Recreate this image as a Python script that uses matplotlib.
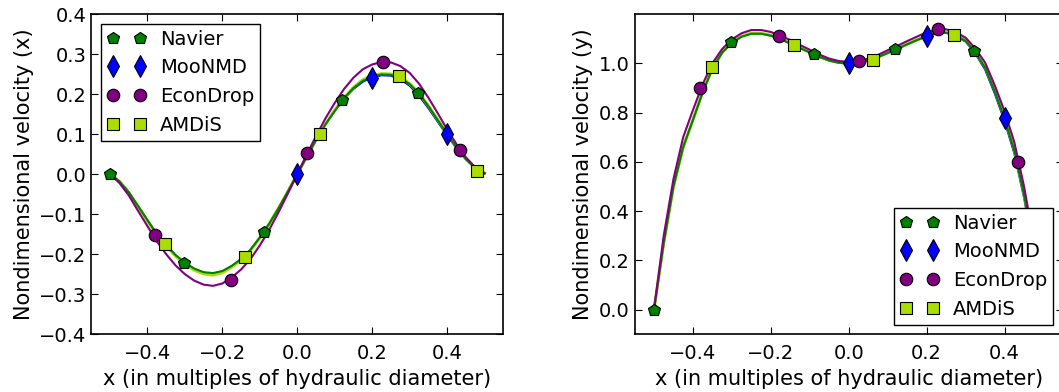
import matplotlib
matplotlib.use("Agg")
import matplotlib.pyplot as plt

# x positions of the line profiles (hydraulic diameters)
line_x = [-0.5, -0.475, -0.45, -0.425, -0.4, -0.375, -0.35, -0.325, -0.3, -0.275,
          -0.25, -0.225, -0.2, -0.175, -0.15, -0.125, -0.1, -0.075, -0.05, -0.025,
          0.0, 0.025, 0.05, 0.075, 0.1, 0.125, 0.15, 0.175, 0.2, 0.225,
          0.25, 0.275, 0.3, 0.325, 0.35, 0.375, 0.4, 0.425, 0.45, 0.475, 0.5]

# x-velocity profiles
navier_u_line = [0.0, -0.018, -0.045, -0.080, -0.115, -0.150, -0.177, -0.202, -0.221, -0.236,
                 -0.245, -0.247, -0.242, -0.229, -0.212, -0.189, -0.158, -0.124, -0.085, -0.043,
                 0.0, 0.043, 0.085, 0.124, 0.158, 0.190, 0.215, 0.233, 0.244, 0.249,
                 0.248, 0.240, 0.225, 0.201, 0.170, 0.135, 0.100, 0.067, 0.038, 0.015, 0.002]
moonmd_u_line = [0.0, -0.018, -0.045, -0.080, -0.115, -0.150, -0.178, -0.203, -0.222, -0.237,
                 -0.246, -0.249, -0.243, -0.230, -0.213, -0.189, -0.158, -0.124, -0.085, -0.043,
                 0.0, 0.043, 0.085, 0.124, 0.158, 0.189, 0.213, 0.231, 0.242, 0.247,
                 0.246, 0.237, 0.221, 0.196, 0.165, 0.131, 0.097, 0.065, 0.037, 0.015, 0.002]
econdrop_u_line = [0.0, -0.022, -0.053, -0.092, -0.130, -0.168, -0.200, -0.228, -0.250, -0.266,
                   -0.276, -0.279, -0.273, -0.258, -0.238, -0.212, -0.178, -0.139, -0.095, -0.048,
                   0.0, 0.049, 0.095, 0.139, 0.178, 0.213, 0.241, 0.262, 0.274, 0.280,
                   0.279, 0.270, 0.253, 0.226, 0.191, 0.152, 0.112, 0.075, 0.042, 0.017, 0.002]
amdis_u_line = [0.0, -0.018, -0.046, -0.081, -0.117, -0.152, -0.179, -0.205, -0.224, -0.240,
                -0.249, -0.252, -0.246, -0.232, -0.214, -0.190, -0.159, -0.124, -0.085, -0.043,
                0.0, 0.043, 0.086, 0.125, 0.160, 0.191, 0.217, 0.236, 0.246, 0.251,
                0.250, 0.242, 0.226, 0.202, 0.171, 0.136, 0.101, 0.068, 0.039, 0.016, 0.003]

# y-velocity profiles
navier_v_line = [0.0, 0.27, 0.50, 0.66, 0.77, 0.882, 0.978, 1.043, 1.083, 1.108,
                 1.120, 1.120, 1.112, 1.098, 1.080, 1.062, 1.044, 1.026, 1.011, 1.002,
                 0.999, 1.002, 1.011, 1.025, 1.042, 1.059, 1.077, 1.094, 1.110, 1.122,
                 1.124, 1.112, 1.091, 1.044, 0.982, 0.885, 0.775, 0.645, 0.465, 0.245, 0.0]
moonmd_v_line = [0.0, 0.27, 0.50, 0.66, 0.77, 0.883, 0.979, 1.044, 1.084, 1.109,
                 1.121, 1.121, 1.113, 1.099, 1.081, 1.062, 1.044, 1.026, 1.011, 1.002,
                 1.0, 1.002, 1.011, 1.025, 1.042, 1.059, 1.077, 1.094, 1.111, 1.123,
                 1.124, 1.111, 1.088, 1.040, 0.975, 0.877, 0.766, 0.635, 0.455, 0.24, 0.0]
econdrop_v_line = [0.0, 0.30, 0.53, 0.70, 0.81, 0.915, 1.000, 1.058, 1.097, 1.122,
                   1.135, 1.135, 1.127, 1.112, 1.094, 1.074, 1.055, 1.035, 1.019, 1.009,
                   1.006, 1.009, 1.019, 1.034, 1.053, 1.071, 1.090, 1.108, 1.126, 1.137,
                   1.138, 1.126, 1.104, 1.060, 1.003, 0.910, 0.805, 0.680, 0.500, 0.28, 0.0]
amdis_v_line = [0.0, 0.27, 0.50, 0.66, 0.77, 0.885, 0.980, 1.045, 1.085, 1.110,
                1.122, 1.122, 1.114, 1.100, 1.082, 1.063, 1.045, 1.027, 1.012, 1.003,
                1.0, 1.003, 1.012, 1.026, 1.043, 1.060, 1.078, 1.095, 1.112, 1.124,
                1.126, 1.114, 1.093, 1.045, 0.985, 0.890, 0.780, 0.650, 0.470, 0.25, 0.0]

# sampled points shown with markers
navier_x = [-0.5, -0.302, -0.09, 0.12, 0.321]
navier_u = [0.0, -0.221, -0.145, 0.184, 0.203]
navier_v = [0.0, 1.085, 1.037, 1.059, 1.049]

moonmd_x = [0.0, 0.2, 0.4]
moonmd_u = [0.0, 0.241, 0.100]
moonmd_v = [1.002, 1.112, 0.778]

econdrop_x = [-0.381, -0.178, 0.026, 0.23, 0.434]
econdrop_u = [-0.152, -0.264, 0.053, 0.280, 0.060]
econdrop_v = [0.898, 1.112, 1.011, 1.138, 0.600]

amdis_x = [-0.352, -0.14, 0.061, 0.271, 0.48]
amdis_u = [-0.175, -0.206, 0.101, 0.244, 0.008]
amdis_v = [0.984, 1.075, 1.015, 1.116, 0.20]

plt.rcParams.update({
    "font.family": "DejaVu Sans",
    "font.size": 14,
    "axes.labelsize": 15,
    "axes.linewidth": 1.2,
    "xtick.direction": "in",
    "ytick.direction": "in",
    "xtick.top": True,
    "ytick.right": True,
    "xtick.major.size": 5,
    "ytick.major.size": 5,
    "xtick.major.pad": 7,
    "ytick.major.pad": 3.5,
    "legend.fontsize": 14,
    "legend.numpoints": 2,
    "legend.fancybox": False,
    "legend.framealpha": 1.0,
    "legend.edgecolor": "black",
    "legend.borderpad": 0.3,
    "legend.handletextpad": 0.75,
})

series = [
    ("Navier", "green", "p", 9, navier_x, navier_u, navier_v,
     navier_u_line, navier_v_line, 1.5, 3),
    ("MooNMD", "blue", "d", 11, moonmd_x, moonmd_u, moonmd_v,
     moonmd_u_line, moonmd_v_line, 1.5, 2),
    ("EconDrop", "purple", "o", 9, econdrop_x, econdrop_u, econdrop_v,
     econdrop_u_line, econdrop_v_line, 1.5, 4),
    ("AMDiS", "#aadd00", "s", 9, amdis_x, amdis_u, amdis_v,
     amdis_u_line, amdis_v_line, 2.2, 2.5),
]

W, H = 1059, 392
fig = plt.figure(figsize=(W / 100, H / 100), dpi=100)
ax1 = fig.add_axes([91.3 / W, (H - 334.3) / H, 412 / W, 320.3 / H])
ax2 = fig.add_axes([634.5 / W, (H - 334.3) / H, 428.5 / W, 320.3 / H])

for name, color, marker, ms, px, pu, pv, lu, lv, lw, z in series:
    ax1.plot(line_x, lu, "-", color=color, lw=lw, zorder=z)
    ax2.plot(line_x, lv, "-", color=color, lw=lw, zorder=z)
# markers stay below the legend (zorder 5)
for name, color, marker, ms, px, pu, pv, lu, lv, lw, z in series:
    ax1.plot(px, pu, linestyle="none", marker=marker, ms=ms, mfc=color,
             mec="black", mew=0.8, label=name, zorder=4.5)
    ax2.plot(px, pv, linestyle="none", marker=marker, ms=ms, mfc=color,
             mec="black", mew=0.8, label=name, zorder=4.5)

ax1.set_xlim(-0.55, 0.55)
ax1.set_ylim(-0.4, 0.4)
ax1.set_xticks([-0.4, -0.2, 0.0, 0.2, 0.4])
ax1.set_yticks([-0.4, -0.3, -0.2, -0.1, 0.0, 0.1, 0.2, 0.3, 0.4])
ax1.set_xlabel("x (in multiples of hydraulic diameter)")
ax1.set_ylabel("Nondimensional velocity (x)")
ax1.legend(loc="upper left")

ax2.set_xlim(-0.55, 0.55)
ax2.set_ylim(-0.1, 1.2)
ax2.set_xticks([-0.4, -0.2, 0.0, 0.2, 0.4])
ax2.set_yticks([0.0, 0.2, 0.4, 0.6, 0.8, 1.0])
ax2.set_xlabel("x (in multiples of hydraulic diameter)")
ax2.set_ylabel("Nondimensional velocity (y)")
ax2.legend(loc="lower right")

fig.savefig("out.png", dpi=100)
